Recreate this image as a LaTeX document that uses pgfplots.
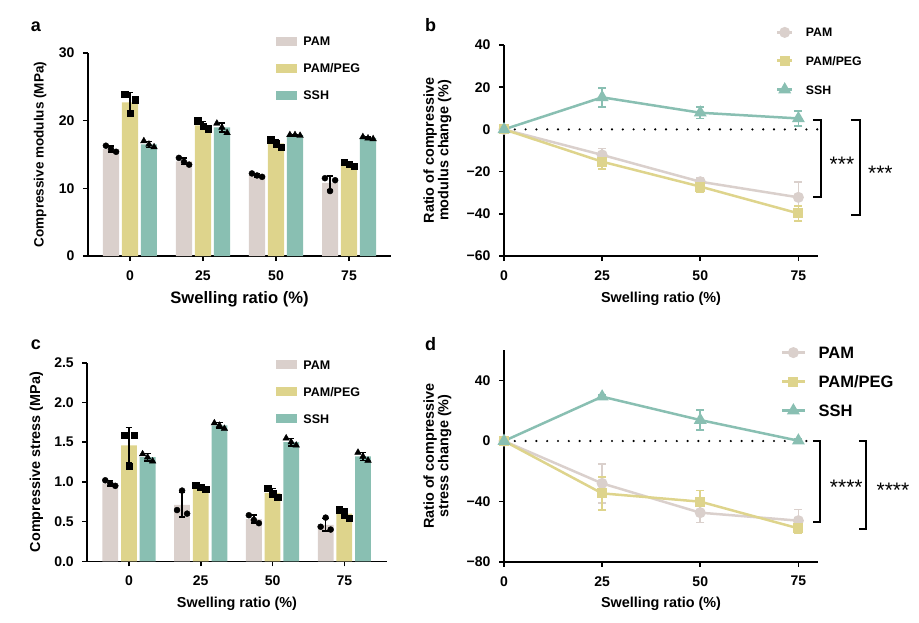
\documentclass[border=0pt]{standalone}
\usepackage{pgfplots}
\pgfplotsset{compat=1.18}
\usepackage{fontspec}
\setmainfont{Liberation Sans}
\definecolor{pamc}{RGB}{218,208,204}
\definecolor{pegc}{RGB}{222,212,140}
\definecolor{sshc}{RGB}{137,191,178}
\newcommand{\fs}[1]{\fontsize{#1bp}{#1bp}\selectfont}
\pgfplotsset{
  base/.style={
    scale only axis, anchor=south west,
    axis lines=left,
    axis line style={line width=1.6bp,-},
    tick style={line width=1.6bp,black},
    major tick length=5bp,
    tick align=outside,
    clip=false,
    /pgf/number format/assume math mode=true,
    tick label style={font=\fs{14}\bfseries},
    xticklabel style={yshift=-6bp},
    yticklabel style={xshift=-5bp},
    label style={font=\fs{14.4}\bfseries},
    legend cell align=left,
  },
  ylab/.style={every axis y label/.append style={at={(axis description cs:#1,0.5)}, anchor=center}},
  xlab/.style={every axis x label/.append style={at={(axis description cs:0.5,#1)}, anchor=center}},
  barerr/.style={error bars/y dir=both, error bars/y explicit,
     error bars/error bar style={line width=1.6bp,black},
     error bars/error mark options={rotate=90,mark size=3.2bp,line width=1.6bp,black}},
  lineerr/.style={error bars/y dir=both, error bars/y explicit,
     error bars/error bar style={line width=1.6bp,#1,solid},
     error bars/error mark options={rotate=90,mark size=4bp,line width=1.6bp,#1}},
  barlegend/.style={draw=none, fill=none, font=\fs{12.5}\bfseries, row sep=18bp, inner sep=0pt,
     nodes={inner sep=0pt, text height=9bp, text depth=0bp},
     /tikz/every odd column/.style={column sep=6.6bp}},
  barimg/.style={legend image code/.code={\fill[#1] (0bp,-4.5bp) rectangle (20.7bp,4.5bp);}},
  linimgb/.style={legend image code/.code={\draw[mark repeat=2,mark phase=2,##1] plot coordinates {(0bp,0bp) (7.35bp,0bp) (14.7bp,0bp)};}},
  linimgd/.style={legend image code/.code={\draw[mark repeat=2,mark phase=2,##1] plot coordinates {(0bp,0bp) (11.3bp,0bp) (22.6bp,0bp)};}},
}
\begin{document}
\begin{tikzpicture}
\useasboundingbox (0,0) rectangle (919bp,-623bp);
% ---------------- panel a ----------------
\begin{axis}[base, at={(88bp,-256bp)}, width=303bp, height=203bp,
  xmin=-0.575, xmax=3.575, ymin=0, ymax=30,
  xtick={0,1,2,3}, xticklabels={0,25,50,75},
  ytick={0,10,20,30},
  xlab=-0.212, ylab=-0.158,
  xlabel={Swelling ratio (\%)}, ylabel={Compressive modulus (MPa)},
  xlabel style={font=\fs{16.6}\bfseries},
  ylabel style={font=\fs{13.5}\bfseries},
  legend style={at={(0.620,1.081)}, anchor=north west, barlegend},
]
\addplot[ybar, bar width=0.22, bar shift=0pt, fill=pamc, draw=none, barerr, barimg=pamc]
  coordinates {(-0.26,15.8) +- (0,0.45) (0.74,14.0) +- (0,0.5) (1.74,11.95) +- (0,0.25) (2.74,10.8) +- (0,1.03)};
\addlegendentry{PAM}
\addplot[ybar, bar width=0.22, bar shift=0pt, fill=pegc, draw=none, barerr, barimg=pegc]
  coordinates {(0,22.7) +- (0,1.45) (1,19.3) +- (0,0.6) (2,16.65) +- (0,0.55) (3,13.6) +- (0,0.3)};
\addlegendentry{PAM/PEG}
\addplot[ybar, bar width=0.22, bar shift=0pt, fill=sshc, draw=none, barerr, barimg=sshc]
  coordinates {(0.26,16.5) +- (0,0.45) (1.26,19.0) +- (0,0.7) (2.26,17.9) +- (0,0.05) (3.26,17.45) +- (0,0.15)};
\addlegendentry{SSH}
\addplot[only marks, mark=*, mark size=3bp, black, forget plot] coordinates {
 (-0.33,16.3) (-0.26,15.8) (-0.19,15.4) (0.67,14.5) (0.74,13.9) (0.81,13.5)
 (1.67,12.2) (1.74,11.9) (1.81,11.7) (2.67,11.5) (2.74,9.6) (2.81,11.2)};
\addplot[only marks, mark=square*, mark size=3.2bp, black, forget plot] coordinates {
 (-0.07,23.9) (0,21.1) (0.07,23.1) (0.93,20.0) (1,19.2) (1.07,18.8)
 (1.93,17.2) (2,16.6) (2.07,16.1) (2.93,13.9) (3,13.6) (3.07,13.3)};
\addplot[only marks, mark=triangle*, mark size=3.8bp, black, forget plot] coordinates {
 (0.19,17.0) (0.26,16.5) (0.33,16.1) (1.19,19.6) (1.26,19.0) (1.33,18.2)
 (2.19,17.9) (2.26,17.9) (2.33,17.8) (3.19,17.6) (3.26,17.4) (3.33,17.3)};
\end{axis}
% ---------------- panel c ----------------
\begin{axis}[base, at={(87.3bp,-561.3bp)}, width=299.4bp, height=198.6bp,
  xmin=-0.58, xmax=3.59, ymin=0, ymax=2.5,
  xtick={0,1,2,3}, xticklabels={0,25,50,75},
  ytick={0,0.5,1,1.5,2,2.5}, yticklabels={0.0,0.5,1.0,1.5,2.0,2.5},
  xlab=-0.2125, ylab=-0.170,
  xlabel={Swelling ratio (\%)}, ylabel={Compressive stress (MPa)},
  legend style={at={(0.630,1.0146)}, anchor=north west, barlegend},
]
\addplot[ybar, bar width=0.22, bar shift=0pt, fill=pamc, draw=none, barerr, barimg=pamc]
  coordinates {(-0.26,0.98) +- (0,0.035) (0.74,0.71) +- (0,0.155) (1.74,0.53) +- (0,0.05) (2.74,0.46) +- (0,0.08)};
\addlegendentry{PAM}
\addplot[ybar, bar width=0.22, bar shift=0pt, fill=pegc, draw=none, barerr, barimg=pegc]
  coordinates {(0,1.46) +- (0,0.225) (1,0.93) +- (0,0.03) (2,0.86) +- (0,0.055) (3,0.60) +- (0,0.055)};
\addlegendentry{PAM/PEG}
\addplot[ybar, bar width=0.22, bar shift=0pt, fill=sshc, draw=none, barerr, barimg=sshc]
  coordinates {(0.26,1.31) +- (0,0.045) (1.26,1.71) +- (0,0.035) (2.26,1.50) +- (0,0.045) (3.26,1.32) +- (0,0.05)};
\addlegendentry{SSH}
\addplot[only marks, mark=*, mark size=3bp, black, forget plot] coordinates {
 (-0.33,1.02) (-0.26,0.98) (-0.19,0.95) (0.67,0.645) (0.74,0.89) (0.81,0.60)
 (1.67,0.58) (1.74,0.52) (1.81,0.48) (2.67,0.435) (2.74,0.55) (2.81,0.40)};
\addplot[only marks, mark=square*, mark size=3.2bp, black, forget plot] coordinates {
 (-0.07,1.59) (0,1.20) (0.07,1.59) (0.93,0.96) (1,0.93) (1.07,0.905)
 (1.93,0.92) (2,0.855) (2.07,0.81) (2.93,0.65) (3,0.61) (3.07,0.54)};
\addplot[only marks, mark=triangle*, mark size=3.8bp, black, forget plot] coordinates {
 (0.19,1.35) (0.26,1.31) (0.33,1.26) (1.19,1.74) (1.26,1.71) (1.33,1.67)
 (2.19,1.55) (2.26,1.50) (2.33,1.46) (3.19,1.37) (3.26,1.32) (3.33,1.27)};
\end{axis}
% ---------------- panel b ----------------
\begin{axis}[base, at={(504bp,-256bp)}, width=314bp, height=211bp,
  xmin=0, xmax=80, ymin=-60, ymax=40,
  xtick={0,25,50,75},
  ytick={-60,-40,-20,0,20,40}, yticklabels={−60,−40,−20,0,20,40},
  xlab=-0.201, ylab=-0.212,
  xlabel={Swelling ratio (\%)},
  ylabel={Ratio of compressive\\modulus change (\%)},
  ylabel style={align=center},
  legend style={at={(0.866,1.0815)}, anchor=north west, draw=none, fill=none,
     font=\fs{12.3}\bfseries, row sep=19.5bp, inner sep=0pt,
     nodes={inner sep=0pt, text height=8.8bp, text depth=0bp},
     /tikz/every odd column/.style={column sep=12.6bp}},
]
\draw[line width=2.4bp, line cap=round, dash pattern=on 0bp off 10.8bp] (axis cs:0,0) -- (axis cs:80,0);
\addplot[pamc, line width=2.5bp, mark=*, mark size=4.2bp, mark options={solid}, lineerr=pamc, linimgb]
  coordinates {(0,0) +- (0,0) (25,-12.1) +- (0,3) (50,-24.8) +- (0,2) (75,-32.2) +- (0,7.4)};
\addlegendentry{PAM}
\addplot[pegc, line width=2.5bp, mark=square*, mark size=3.8bp, mark options={solid}, lineerr=pegc, linimgb]
  coordinates {(0,0) +- (0,0) (25,-15.3) +- (0,3.5) (50,-27.1) +- (0,2.7) (75,-39.8) +- (0,3.5)};
\addlegendentry{PAM/PEG}
\addplot[sshc, line width=2.5bp, mark=triangle*, mark size=5bp, mark options={solid}, lineerr=sshc, linimgb]
  coordinates {(0,0) +- (0,0) (25,15.2) +- (0,4.5) (50,7.9) +- (0,2.8) (75,5.2) +- (0,3.6)};
\addlegendentry{SSH}
\draw[line width=1.8bp] (axis cs:78.7,4.5) -- (axis cs:80.8,4.5) -- (axis cs:80.8,-31.9) -- (axis cs:78.7,-31.9);
\draw[line width=1.8bp] (axis cs:88.4,4.5) -- (axis cs:90.6,4.5) -- (axis cs:90.6,-40.6) -- (axis cs:88.4,-40.6);
\node[font=\fs{21}, anchor=base, yshift=-12bp] at (axis cs:86.1,-14.2) {***};
\node[font=\fs{21}, anchor=base, yshift=-12bp] at (axis cs:95.9,-18.4) {***};
\end{axis}
% ---------------- panel d ----------------
\begin{axis}[base, at={(504bp,-561.7bp)}, width=314bp, height=211.2bp,
  xmin=0, xmax=80, ymin=-80, ymax=60,
  xtick={0,25,50,75},
  ytick={-80,-40,0,40}, yticklabels={−80,−40,0,40},
  xlab=-0.198, ylab=-0.212,
  xlabel={Swelling ratio (\%)},
  ylabel={Ratio of compressive\\stress change (\%)},
  ylabel style={align=center},
  legend style={at={(0.881,1.019)}, anchor=north west, draw=none, fill=none,
     font=\fs{16.5}\bfseries, row sep=17.2bp, inner sep=0pt,
     nodes={inner sep=0pt, text height=11.8bp, text depth=0bp},
     /tikz/every odd column/.style={column sep=12.7bp}},
]
\draw[line width=2.4bp, line cap=round, dash pattern=on 0bp off 10.8bp] (axis cs:0,0) -- (axis cs:78,0);
\addplot[pamc, line width=2.5bp, mark=*, mark size=4.2bp, mark options={solid}, lineerr=pamc, linimgd]
  coordinates {(0,0) +- (0,0) (25,-28.1) +- (0,13) (50,-47.5) +- (0,6.5) (75,-52.8) +- (0,7.5)};
\addlegendentry{PAM}
\addplot[pegc, line width=2.5bp, mark=square*, mark size=3.8bp, mark options={solid}, lineerr=pegc, linimgd]
  coordinates {(0,0) +- (0,0) (25,-34.7) +- (0,11) (50,-40.2) +- (0,7.5) (75,-57.9) +- (0,3.3)};
\addlegendentry{PAM/PEG}
\addplot[sshc, line width=2.5bp, mark=triangle*, mark size=5bp, mark options={solid}, lineerr=sshc, linimgd]
  coordinates {(0,0) +- (0,0) (25,29.4) +- (0,1) (50,13.9) +- (0,6.6) (75,0.2) +- (0,1)};
\addlegendentry{SSH}
\draw[line width=1.8bp] (axis cs:78.7,0) -- (axis cs:80.6,0) -- (axis cs:80.6,-53.5) -- (axis cs:78.7,-53.5);
\draw[line width=1.8bp] (axis cs:90.4,0) -- (axis cs:92.3,0) -- (axis cs:92.3,-58.5) -- (axis cs:90.4,-58.5);
\node[font=\fs{21}, anchor=base, yshift=-12bp] at (axis cs:87.2,-27.6) {****};
\node[font=\fs{21}, anchor=base, yshift=-12bp] at (axis cs:99.1,-29.8) {****};
\end{axis}
% panel letters
\node[anchor=base west, font=\fs{18}\bfseries] at (27.3bp,-31.7bp) {a};
\node[anchor=base west, font=\fs{18}\bfseries] at (421.7bp,-31.7bp) {b};
\node[anchor=base west, font=\fs{18}\bfseries] at (27.3bp,-349.3bp) {c};
\node[anchor=base west, font=\fs{18}\bfseries] at (421.7bp,-350bp) {d};
\end{tikzpicture}
\end{document}
